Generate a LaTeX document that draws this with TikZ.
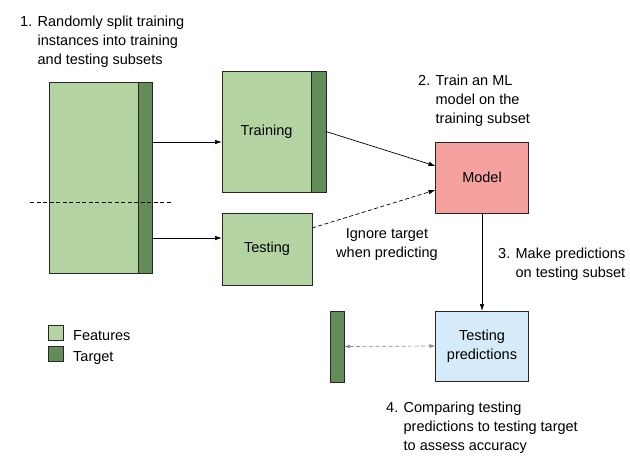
\documentclass[tikz,border=0pt]{standalone}
\usepackage{fontspec}
\setmainfont{Liberation Sans}
\usetikzlibrary{arrows.meta, positioning, calc}
\definecolor{lgreen}{RGB}{179,211,161}
\definecolor{dgreen}{RGB}{98,141,88}
\definecolor{lred}  {RGB}{244,161,160}
\definecolor{lblue} {RGB}{214,235,249}
\definecolor{mgray} {RGB}{140,140,140}

\begin{document}
\begin{tikzpicture}[x=1pt, y=-1pt,
    font=\fontsize{14.5}{19}\selectfont,
    box/.style={draw=black!85, line width=0.9pt, inner sep=0pt, outer sep=0pt},
    feat/.style={box, fill=lgreen},
    targ/.style={box, fill=dgreen},
    note/.style={align=left, inner sep=0pt, anchor=north west},
    arr/.style={-{Latex[length=7pt, width=4.5pt]}, line width=0.7pt}]
  \useasboundingbox (0,0) rectangle (630,461);

  % full data set
  \node[feat, minimum width=89pt, minimum height=191pt] (allF) at (93.5,177.5) {};
  \node[targ, minimum width=14pt, minimum height=191pt, right=0pt of allF] (allT) {};
  \coordinate (cutL) at (30,202);
  \coordinate (cutR) at (172,202);
  \draw[dash pattern=on 4pt off 2.5pt, line width=0.7pt] (cutL) -- (cutR);

  % subsets
  \node[feat, minimum width=89pt, minimum height=121pt] (trainF) at (266.5,131.5) {Training};
  \node[targ, minimum width=15pt, minimum height=121pt, right=0pt of trainF] (trainT) {};
  \node[feat, minimum width=90pt, minimum height=72pt] (testF) at (267,249) {Testing};

  \node[box, fill=lred, minimum width=93pt, minimum height=71pt] (model) at (482,177.5) {Model};
  \node[box, fill=lblue, minimum width=93pt, minimum height=70pt, align=center] (pred) at (482,346) {Testing\\predictions};
  \node[targ, minimum width=14pt, minimum height=71pt] (predT) at (337,346.5) {};

  % legend
  \node[feat, minimum size=15pt] (legF) at (55.5,332.5) {};
  \node[targ, minimum size=15pt, below=6pt of legF] (legT) {};
  \node[right=10pt of legF.south east, anchor=base west, inner sep=0pt] (legFtxt) {Features};
  \node[right=10pt of legT.south east, anchor=base west, inner sep=0pt] (legTtxt) {Target};

  % connectors
  \draw[arr] (allT.east |- 0,142) -- (trainF.west |- 0,142);
  \draw[arr] (allT.east |- 0,238) -- (testF.west |- 0,238);
  \draw[arr] (trainT.east) -- (model.west |- 0,166);
  \draw[arr, dash pattern=on 4pt off 2.5pt] (testF.east |- 0,228) -- (model.west |- 0,190);
  \draw[arr] (model.south) -- (pred.north);
  \draw[{Latex[length=6pt, width=4pt]}-{Latex[length=6pt, width=4pt]}, mgray, line width=0.7pt,
        dash pattern=on 4pt off 2.5pt] (predT.east) -- (pred.west);

  % notes
  \node[note] (step1) at (20,15.5) {1. Randomly split training\\\hphantom{1. }instances into training\\\hphantom{1. }and testing subsets};
  \node[note] (step2) at (418,75) {2. Train an ML\\\hphantom{2. }model on the\\\hphantom{2. }training subset};
  \node[note] (step3) at (498,248) {3. Make predictions\\\hphantom{3. }on testing subset};
  \node[note] (step4) at (386,402) {4. Comparing testing\\\hphantom{4. }predictions to testing target\\\hphantom{4. }to assess accuracy};
  \node[align=center, inner sep=0pt, anchor=north] (ignore) at (387,228) {Ignore target\\when predicting};
\end{tikzpicture}
\end{document}
